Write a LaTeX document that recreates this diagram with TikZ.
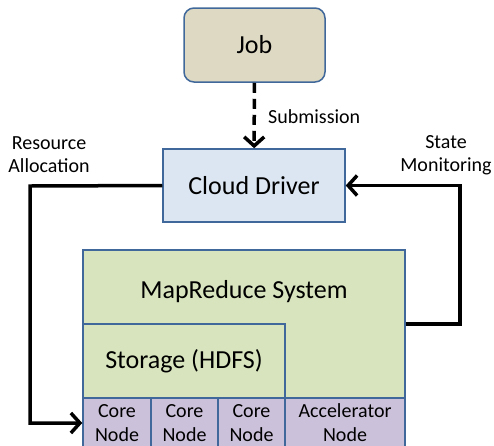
\documentclass[tikz,border=0pt]{standalone}
\usepackage{fontspec}
\setmainfont{Carlito}
\usetikzlibrary{arrows.meta}

\definecolor{jobfill}{HTML}{DDD9C3}
\definecolor{drvfill}{HTML}{DCE6F2}
\definecolor{sysfill}{HTML}{D7E4BD}
\definecolor{cellfill}{HTML}{CCC1DA}
\definecolor{edge}{HTML}{41689A}

\tikzset{
  box/.style={draw=edge, line width=1.5pt, inner sep=0pt, font=\fontsize{26}{28}\selectfont},
  cell/.style={box, fill=cellfill, minimum height=50pt, align=center, font=\fontsize{20}{24}\selectfont},
  flow/.style={line width=3.5pt, line join=miter, -{Straight Barb[length=9pt,width=20pt]}},
  tag/.style={inner sep=0pt, align=center, font=\fontsize{20}{23}\selectfont}
}

\begin{document}
\begin{tikzpicture}[x=1pt,y=-1pt]
	\useasboundingbox (0,0) rectangle (494,445);
	\clip (0,0) rectangle (494,445);
	% top boxes
	\node [box, fill=jobfill, rounded corners=10pt, minimum width=141pt, minimum height=74pt] (job) at (254.5,45) {Job};
	\node [box, fill=drvfill, minimum width=182pt, minimum height=73pt] (drv) at (254,185.5) {Cloud Driver};
	% system block
	\node [box, fill=sysfill, minimum width=322pt, minimum height=148pt] (sys) at (244,324) {};
	\node [box, draw=none] (syslabel) at (244,292) {MapReduce System};
	\node [box, fill=sysfill, minimum width=202pt, minimum height=74pt] (hdfs) at (184,361) {Storage (HDFS)};
	% cells
	\node [cell, minimum width=68pt] (core1) at (117,423) {Core\\Node};
	\node [cell, minimum width=67pt] (core2) at (184.5,423) {Core\\Node};
	\node [cell, minimum width=67pt] (core3) at (251.5,423) {Core\\Node};
	\node [cell, minimum width=120pt] (acc) at (345,423) {Accelerator\\Node};
	% connectors
	\coordinate (lbend) at (30,186);
	\coordinate (rbend) at (460,324);
	\draw [line width=3.5pt, dash pattern=on 10pt off 6pt, -{Straight Barb[length=9pt,width=20pt]}] (job) -- (drv);
	\draw [flow] (drv.west) -- (lbend) |- (core1.west);
	\draw [flow] (sys.east) -- (rbend) |- (drv.east);
	% labels
	\node [tag, anchor=west] (sub) at (268,117) {Submission};
	\node [tag] (alloc) at (49,155) {Resource\\Allocation};
	\node [tag] (mon) at (446,155) {State\\Monitoring};
\end{tikzpicture}
\end{document}
